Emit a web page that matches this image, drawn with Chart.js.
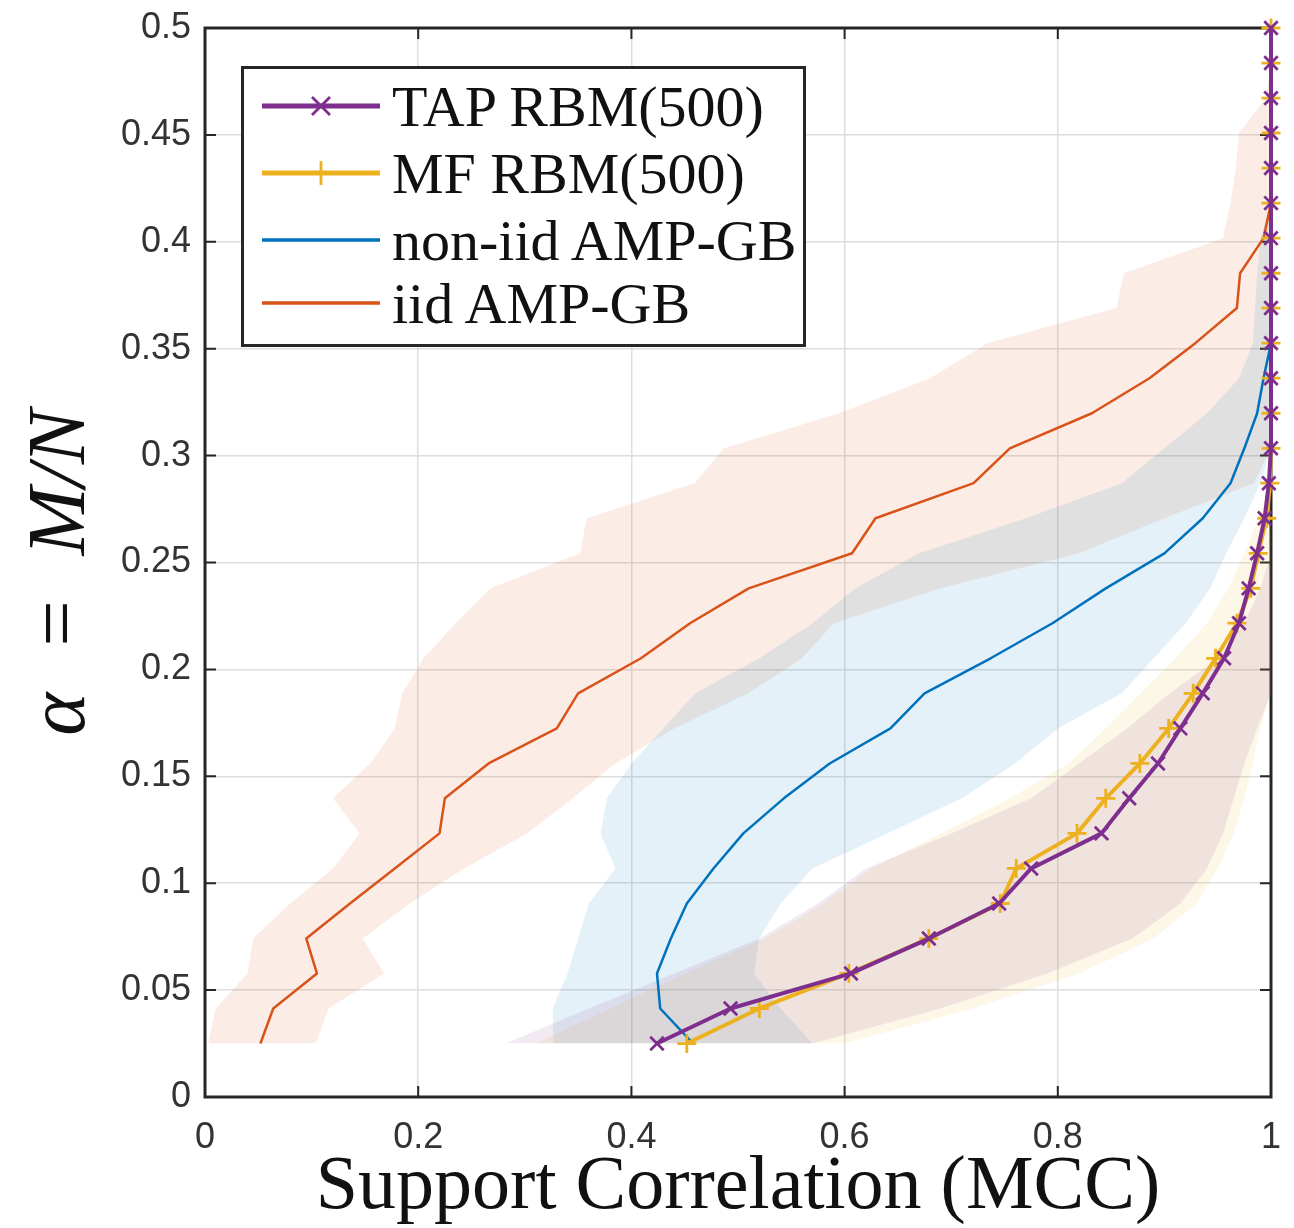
<!DOCTYPE html>
<html>
<head>
<meta charset="utf-8">
<script src="https://cdn.jsdelivr.net/npm/chart.js@4.4.1/dist/chart.umd.min.js"></script>
<style>
  html, body { margin: 0; padding: 0; background: #fff; }
  #wrap { position: relative; width: 1294px; height: 1228px; }
  canvas { display: block; }
  #legend {
    position: absolute; left: 241px; top: 66px; width: 559px; height: 275px;
    border: 3px solid #262626; background: #fff;
  }
  .row { position: absolute; left: 0; height: 66px; display: flex; align-items: center; }
  .row svg { margin-left: 18px; }
  .row span { font-family: "Liberation Serif", serif; font-size: 58px; color: #111; margin-left: 10px; white-space: nowrap; }
</style>
</head>
<body>
<div id="wrap">
  <canvas id="chart" width="1294" height="1228"></canvas>
  <div id="legend"></div>
</div>
<script>
// ---- data ----
const alpha = [0.025,0.0414,0.0578,0.0741,0.0905,0.1069,0.1233,0.1397,0.156,0.1724,0.1888,0.2052,0.2216,0.2379,0.2543,0.2707,0.2871,0.3034,0.3198,0.3362,0.3526,0.369,0.3853,0.4017,0.4181,0.4345,0.4509,0.4672,0.4836,0.5];

const tapMcc = [0.424,0.493,0.606,0.679,0.745,0.775,0.841,0.867,0.894,0.915,0.936,0.956,0.970,0.979,0.987,0.994,0.998,1,1,1,1,1,1,1,1,1,1,1,1,1];
const mfMcc  = [0.452,0.520,0.604,0.679,0.746,0.761,0.818,0.845,0.877,0.904,0.927,0.948,0.968,0.981,0.988,0.996,0.999,1,1,1,1,1,1,1,1,1,1,1,1,1];
const nonIidMcc = [0.458,0.427,0.424,0.437,0.452,0.477,0.505,0.543,0.586,0.643,0.675,0.737,0.795,0.845,0.900,0.936,0.962,0.975,0.987,0.993,1,1,1,1,1,1,1,1,1,1];
const iidMcc = [0.052,0.064,0.105,0.095,0.136,0.178,0.220,0.225,0.266,0.330,0.350,0.409,0.455,0.510,0.607,0.629,0.721,0.755,0.832,0.886,0.929,0.968,0.971,0.993,1,1,1,1,1,1];

const tapLo = [0.282,0.360,0.440,0.520,0.575,0.620,0.700,0.775,0.820,0.865,0.905,0.950,0.975,0.990,1,1,1,1,1,1,1,1,1,1,1,1,1,1,1,1];
const tapHi = [0.570,0.690,0.790,0.870,0.915,0.940,0.955,0.965,0.975,0.987,1,1,1,1,1,1,1,1,1,1,1,1,1,1,1,1,1,1,1,1];
const mfLo  = [0.310,0.380,0.450,0.525,0.580,0.625,0.690,0.755,0.810,0.845,0.878,0.910,0.940,0.960,0.975,0.988,1,1,1,1,1,1,1,1,1,1,1,1,1,1];
const mfHi  = [0.600,0.720,0.820,0.890,0.930,0.950,0.965,0.975,0.983,0.990,1,1,1,1,1,1,1,1,1,1,1,1,1,1,1,1,1,1,1,1];
const nonIidLo = [0.327,0.326,0.340,0.350,0.360,0.385,0.371,0.377,0.400,0.430,0.460,0.520,0.570,0.610,0.670,0.770,0.860,0.900,0.940,0.970,0.983,0.985,0.987,0.990,1,1,1,1,1,1];
const nonIidHi = [0.570,0.540,0.515,0.520,0.540,0.570,0.640,0.710,0.760,0.800,0.860,0.890,0.920,0.943,0.958,0.975,0.990,1,1,1,1,1,1,1,1,1,1,1,1,1];
const iidLo = [0.003,0.010,0.040,0.045,0.080,0.120,0.145,0.120,0.155,0.178,0.185,0.205,0.235,0.268,0.352,0.358,0.459,0.487,0.595,0.680,0.734,0.855,0.862,0.955,0.962,0.967,0.970,0.995,1,1];
const iidHi = [0.104,0.116,0.168,0.148,0.192,0.243,0.302,0.345,0.385,0.440,0.510,0.560,0.590,0.690,0.820,0.900,0.984,1,1,1,1,1,1,1,1,1,1,1,1,1];

const seriesLabels = ['TAP RBM(500)', 'MF RBM(500)', 'non-iid AMP-GB', 'iid AMP-GB'];
const seriesColors = ['#7E2F8E', '#EDB120', '#0072BD', '#D95319'];
const xTickLabels = ['0', '0.2', '0.4', '0.6', '0.8', '1'];
const yTickLabels = ['0', '0.05', '0.1', '0.15', '0.2', '0.25', '0.3', '0.35', '0.4', '0.45', '0.5'];

// ---- helpers ----
function pts(xs) { return xs.map((v, i) => ({ x: v, y: alpha[i] })); }
function rgba(hex, a) {
  const n = parseInt(hex.slice(1), 16);
  return `rgba(${(n >> 16) & 255},${(n >> 8) & 255},${n & 255},${a})`;
}

const lineValues = [tapMcc, mfMcc, nonIidMcc, iidMcc];
const bandValues = [[tapLo, tapHi], [mfLo, mfHi], [nonIidLo, nonIidHi], [iidLo, iidHi]];
const bandAlpha = [0.1, 0.1, 0.1, 0.11];
const pointStyles = ['crossRot', 'cross', false, false];
const lineWidths = [4, 4, 2.5, 2.5];

const datasets = [];
lineValues.forEach((vals, i) => {
  datasets.push({
    label: seriesLabels[i],
    data: pts(vals),
    borderColor: seriesColors[i],
    backgroundColor: seriesColors[i],
    borderWidth: lineWidths[i],
    pointStyle: pointStyles[i] || 'circle',
    pointRadius: pointStyles[i] ? 9.5 : 0,
    pointBorderWidth: 2.8,
    pointBorderColor: seriesColors[i],
    pointHoverRadius: 0,
    fill: false,
    tension: 0,
    clip: false
  });
});
bandValues.forEach((b, i) => {
  datasets.push({
    label: '_band_lo_' + i,
    data: pts(b[0]),
    borderWidth: 0,
    pointRadius: 0,
    fill: '+1',
    backgroundColor: rgba(seriesColors[i], bandAlpha[i]),
    tension: 0
  });
  datasets.push({
    label: '_band_hi_' + i,
    data: pts(b[1]),
    borderWidth: 0,
    pointRadius: 0,
    fill: false,
    tension: 0
  });
});

// Axis box with inward ticks (MATLAB style)
const boxPlugin = {
  id: 'box',
  beforeDatasetsDraw(chart) {
    const { ctx, chartArea: a, scales: { x, y } } = chart;
    ctx.save();
    ctx.strokeStyle = '#262626';
    ctx.lineWidth = 2;
    const tl = 11;
    ctx.beginPath();
    x.ticks.forEach(t => {
      const px = x.getPixelForValue(t.value);
      ctx.moveTo(px, a.bottom); ctx.lineTo(px, a.bottom - tl);
      ctx.moveTo(px, a.top); ctx.lineTo(px, a.top + tl);
    });
    y.ticks.forEach(t => {
      const py = y.getPixelForValue(t.value);
      ctx.moveTo(a.left, py); ctx.lineTo(a.left + tl, py);
      ctx.moveTo(a.right, py); ctx.lineTo(a.right - tl, py);
    });
    ctx.stroke();
    ctx.lineWidth = 3;
    ctx.strokeRect(a.left, a.top, a.right - a.left, a.bottom - a.top);
    ctx.restore();
  }
};

const chart = new Chart(document.getElementById('chart'), {
  type: 'line',
  data: { datasets },
  plugins: [boxPlugin],
  options: {
    indexAxis: 'y',
    responsive: false,
    animation: false,
    devicePixelRatio: 1,
    layout: { padding: { top: 28, right: 23, left: 0, bottom: 0 } },
    plugins: { legend: { display: false }, tooltip: { enabled: false } },
    elements: { line: { borderJoinStyle: 'round' } },
    scales: {
      x: {
        type: 'linear', min: 0, max: 1,
        afterFit(s) { s.height = 131; s.paddingLeft = 0; s.paddingRight = 0; },
        border: { display: false },
        grid: { color: '#dedede', lineWidth: 1.5, drawTicks: false },
        ticks: {
          stepSize: 0.2, padding: 19, color: '#333',
          font: { family: 'Liberation Sans', size: 36 },
          callback: (v) => xTickLabels[Math.round(v / 0.2)]
        },
        title: {
          display: true, text: 'Support Correlation (MCC)', color: '#111',
          font: { family: 'Liberation Serif', size: 76, lineHeight: 1.0 },
          padding: { top: 0, bottom: 2 }
        }
      },
      y: {
        type: 'linear', min: 0, max: 0.5,
        afterFit(s) { s.width = 205; s.paddingTop = 0; s.paddingBottom = 0; },
        border: { display: false },
        grid: { color: '#dedede', lineWidth: 1.5, drawTicks: false },
        ticks: {
          stepSize: 0.05, padding: 14, color: '#333',
          font: { family: 'Liberation Sans', size: 36 },
          callback: (v) => yTickLabels[Math.round(v / 0.05)]
        },
        title: {
          display: true, text: 'α  =  M/N ', color: '#111',
          font: { family: 'Liberation Serif', size: 82, style: 'italic', lineHeight: 1.0 },
          padding: { top: 21, bottom: 0 }
        }
      }
    }
  }
});

// ---- legend (HTML, built from the series arrays) ----
const legend = document.getElementById('legend');
const rowTops = [4, 71, 138, 201];
seriesLabels.forEach((lab, i) => {
  const row = document.createElement('div');
  row.className = 'row';
  row.style.top = rowTops[i] + 'px';
  const c = seriesColors[i];
  let marker = '';
  if (pointStyles[i] === 'crossRot') {
    marker = `<path d="M50 11 L68 29 M68 11 L50 29" stroke="${c}" stroke-width="2.8"/>`;
  } else if (pointStyles[i] === 'cross') {
    marker = `<path d="M59 8 L59 32 M47 20 L71 20" stroke="${c}" stroke-width="2.8"/>`;
  }
  row.innerHTML = `<svg width="120" height="40" viewBox="0 0 120 40">
      <line x1="0" y1="20" x2="118" y2="20" stroke="${c}" stroke-width="${lineWidths[i] + 1}"/>${marker}</svg>
      <span>${lab}</span>`;
  legend.appendChild(row);
});
</script>
</body>
</html>
